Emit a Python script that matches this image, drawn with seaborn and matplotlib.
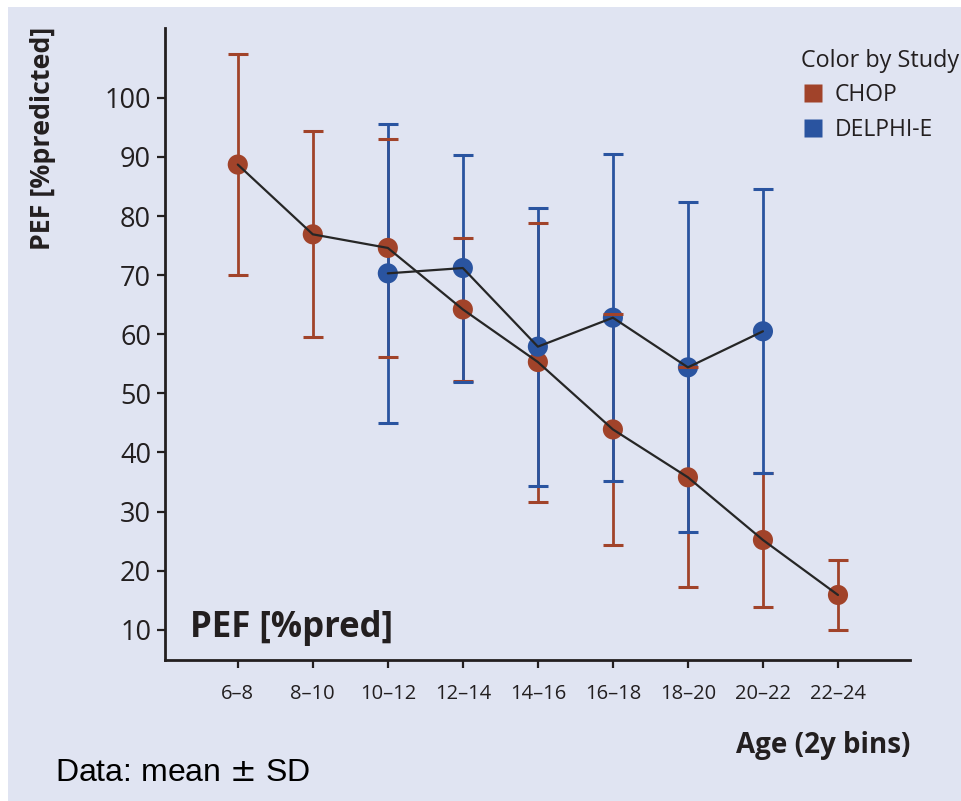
import matplotlib
matplotlib.use("Agg")
import matplotlib.pyplot as plt
from matplotlib.patches import Rectangle
from matplotlib.lines import Line2D
import seaborn as sns
import pandas as pd
import numpy as np

# ---- data ----
categories = ['6–8', '8–10', '10–12', '12–14', '14–16', '16–18', '18–20', '20–22', '22–24']
chop_bins = ['6–8', '8–10', '10–12', '12–14', '14–16', '16–18', '18–20', '20–22', '22–24']
chop_mean = [88.7, 76.9, 74.6, 64.2, 55.3, 43.9, 35.8, 25.2, 15.9]
chop_sd = [18.7, 17.4, 18.4, 12.1, 23.6, 19.6, 18.6, 11.4, 5.9]
delphi_bins = ['10–12', '12–14', '14–16', '16–18', '18–20', '20–22']
delphi_mean = [70.3, 71.2, 57.9, 62.8, 54.4, 60.5]
delphi_sd = [25.3, 19.2, 23.5, 27.7, 27.9, 24.0]
studies = ['CHOP', 'DELPHI-E']
y_ticks = [10, 20, 30, 40, 50, 60, 70, 80, 90, 100]

colors = {'CHOP': '#a1432a', 'DELPHI-E': '#2a54a0'}
bg = '#e0e4f2'
ink = '#231f20'

sns.set_style('ticks')
plt.rcParams['font.family'] = ['Open Sans', 'DejaVu Sans']

df = pd.concat([
    pd.DataFrame({'bin': chop_bins, 'mean': chop_mean, 'sd': chop_sd, 'study': 'CHOP'}),
    pd.DataFrame({'bin': delphi_bins, 'mean': delphi_mean, 'sd': delphi_sd, 'study': 'DELPHI-E'}),
], ignore_index=True)
df['x'] = df['bin'].map({c: i for i, c in enumerate(categories)})

fig = plt.figure(figsize=(9.61, 8.01), dpi=100, facecolor='white')
fig.patches.append(Rectangle((8 / 961, 0), 1, 794 / 801, transform=fig.transFigure,
                             facecolor=bg, edgecolor='none', zorder=-10))
ax = fig.add_axes([165 / 961, 141 / 801, 745 / 961, 632 / 801])
ax.set_facecolor('none')

# error bars
bar_z = {'CHOP': (2.0, 3.5), 'DELPHI-E': (2.1, 3.6)}
for st in studies:
    d = df[df.study == st]
    _, caps, bars = ax.errorbar(d['x'], d['mean'], yerr=d['sd'], fmt='none',
                                ecolor=colors[st], elinewidth=2.0, capsize=7.5,
                                capthick=2.2)
    for b in bars:
        b.set_zorder(bar_z[st][0])
    for c in caps:
        c.set_zorder(bar_z[st][1])

# markers
for i, st in enumerate(studies):
    d = df[df.study == st]
    sns.scatterplot(data=d, x='x', y='mean', color=colors[st], s=210,
                    edgecolor='none', linewidth=0, ax=ax, zorder=3 + 0.1 * i, legend=False)

# connecting lines
sns.lineplot(data=df, x='x', y='mean', units='study', estimator=None, sort=False,
             color='#262626', linewidth=1.6, ax=ax, zorder=4, legend=False)

ax.set_xlim(-0.97, 8.96)
ax.set_ylim(4.9, 111.8)
ax.set_xticks(range(len(categories)))
ax.set_xticklabels(categories, fontsize=14.5, color=ink)
ax.set_yticks(y_ticks)
ax.set_yticklabels([str(v) for v in y_ticks], fontsize=19.5, color=ink)
ax.set_xlabel('')
ax.set_ylabel('')
for s in ['top', 'right']:
    ax.spines[s].set_visible(False)
for s in ['left', 'bottom']:
    ax.spines[s].set_linewidth(2.0)
    ax.spines[s].set_color(ink)
ax.tick_params(axis='both', direction='out', length=6, width=1.6, color=ink)
ax.tick_params(axis='x', pad=11)
ax.tick_params(axis='y', pad=4)

fig.text(190 / 961, 1 - 637 / 801, 'PEF [%pred]', fontsize=25,
         fontweight='bold', color=ink, ha='left', va='baseline')

fig.text(43 / 961, 1 - 27 / 801, 'PEF [%predicted]', rotation=90, fontsize=19.3,
         fontweight='bold', color=ink, ha='center', va='top')
fig.text(910 / 961, 1 - 745 / 801, 'Age (2y bins)', fontsize=20, fontweight='bold',
         color=ink, ha='right', va='center')
fig.text(55 / 961, 1 - 773 / 801, 'Data: mean $\\pm$ SD', fontsize=23,
         family=['Liberation Sans', 'DejaVu Sans'], color='black', ha='left', va='center')

handles = [Line2D([], [], linestyle='none', marker='s', markersize=13.5,
                  markerfacecolor=colors[s], markeredgecolor='none') for s in studies]
leg = fig.legend(handles, studies, title='Color by Study', loc='upper left',
                 bbox_to_anchor=(792 / 961, 1 - 40 / 801), frameon=False,
                 fontsize=16.5, title_fontsize=16.8, handletextpad=0.45,
                 handlelength=1.0, labelspacing=0.45, alignment='left', borderaxespad=0)
for t in leg.get_texts():
    t.set_color(ink)
leg.get_title().set_color(ink)

fig.savefig('out.png', dpi=100, facecolor=fig.get_facecolor())
